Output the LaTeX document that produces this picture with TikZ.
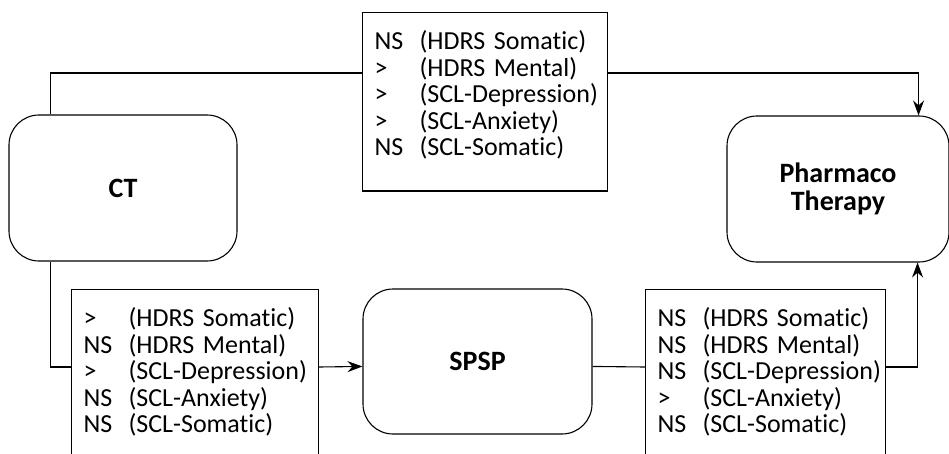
\documentclass[tikz,border=0pt]{standalone}
\usepackage{fontspec}
\setmainfont{Carlito}[Ligatures=NoCommon]
\usetikzlibrary{arrows.meta}

\newcommand{\res}[2]{\makebox[45pt][l]{#1}\mbox{#2}}
\newcommand{\deep}{\rule[-17pt]{0pt}{17pt}}

\begin{document}
\begin{tikzpicture}[x=1pt, y=-1pt, line width=1.1pt,
  therapy/.style={draw, rounded corners=30pt, align=center,
    font=\fontsize{28}{28}\selectfont\bfseries},
  resbox/.style={draw, rectangle, anchor=north west, align=left,
    inner xsep=12pt, inner ysep=18pt, font=\fontsize{26}{26.6}\selectfont},
  arr/.style={-{Stealth[length=15pt, width=11pt, inset=5pt]}}]
  \useasboundingbox (0,0) rectangle (949,454);
  \clip (0,0) rectangle (949,454);

  % Treatments
  \node[therapy, minimum width=228pt, minimum height=146pt] (ct) at (123,188) {CT};
  \node[therapy, minimum width=222pt, minimum height=146pt] (pharma) at (838,189) {Pharmaco\\Therapy};
  \node[therapy, minimum width=229pt, minimum height=145pt] (spsp) at (477.5,361.5) {SPSP};

  % Comparison results
  \node[resbox, text width=221pt] (topres) at (362,12) {%
    \res{NS}{(HDRS Somatic)}\\
    \res{>}{(HDRS Mental)}\\
    \res{>}{(SCL-Depression)}\\
    \res{>}{(SCL-Anxiety)}\\
    \res{NS}{(SCL-Somatic)}\deep};
  \node[resbox, text width=223pt] (leftres) at (71,289) {%
    \res{>}{(HDRS Somatic)}\\
    \res{NS}{(HDRS Mental)}\\
    \res{>}{(SCL-Depression)}\\
    \res{NS}{(SCL-Anxiety)}\\
    \res{NS}{(SCL-Somatic)}\deep};
  \node[resbox, text width=216pt] (rightres) at (645,289) {%
    \res{NS}{(HDRS Somatic)}\\
    \res{NS}{(HDRS Mental)}\\
    \res{NS}{(SCL-Depression)}\\
    \res{>}{(SCL-Anxiety)}\\
    \res{NS}{(SCL-Somatic)}\deep};

  % Connections
  \draw ([xshift=42pt]ct.north west) |- ([yshift=-61pt]topres.north west);
  \draw[arr] ([yshift=-61pt]topres.north east) -| ([xshift=-31pt]pharma.north east);
  \draw ([xshift=42pt]ct.south west) |- ([yshift=-78pt]leftres.north west);
  \draw[arr] ([yshift=-78pt]leftres.north east) -- ([yshift=-78pt]spsp.north west);
  \draw ([yshift=-78pt]spsp.north east) -- ([yshift=-78pt]rightres.north west);
  \draw[arr] ([yshift=-78pt]rightres.north east) -| ([xshift=-32pt]pharma.south east);
\end{tikzpicture}
\end{document}
